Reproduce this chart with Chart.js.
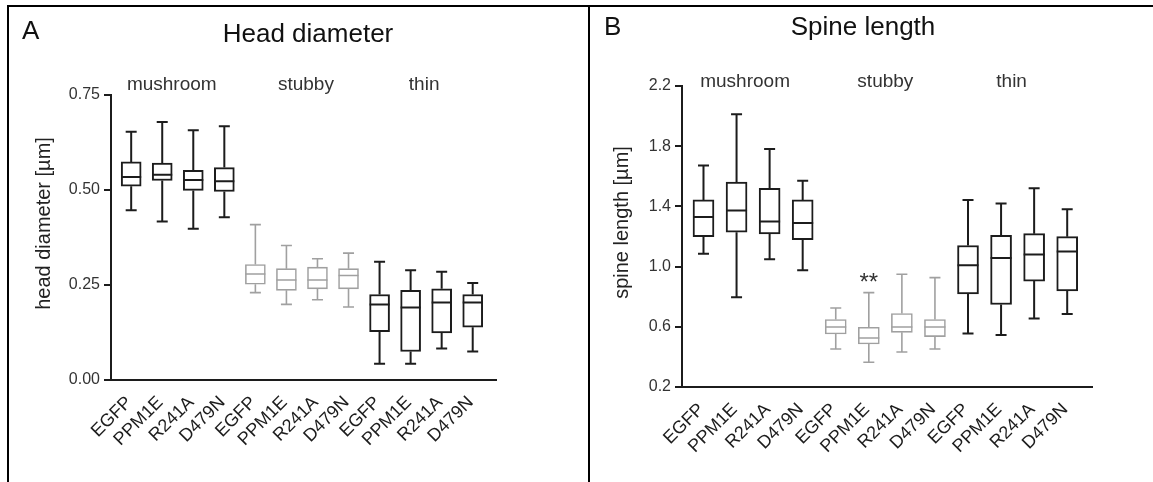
<!DOCTYPE html>
<html>
<head>
<meta charset="utf-8">
<script src="https://cdn.jsdelivr.net/npm/chart.js@4.4.1/dist/chart.umd.min.js"></script>
<style>
  html, body { margin: 0; padding: 0; background: #fff; }
  #wrap { position: relative; width: 1153px; height: 482px; overflow: hidden; }
  canvas { position: absolute; top: 0; }
  #cA { left: 0; }
  #cB { left: 589px; }
  .rule { position: absolute; background: #000; }
</style>
</head>
<body>
<div id="wrap">
  <canvas id="cA" width="589" height="482"></canvas>
  <canvas id="cB" width="564" height="482"></canvas>
  <div class="rule" style="left:7px;top:5px;width:1146px;height:2px"></div>
  <div class="rule" style="left:7px;top:5px;width:2px;height:477px"></div>
  <div class="rule" style="left:588px;top:5px;width:2px;height:477px"></div>
</div>
<script>
// Constructs on the x axis, grouped by spine type
const categories = ['EGFP', 'PPM1E', 'R241A', 'D479N', 'EGFP', 'PPM1E', 'R241A', 'D479N', 'EGFP', 'PPM1E', 'R241A', 'D479N'];
const groups = ['mushroom', 'stubby', 'thin'];

// Head diameter [µm]: whisker ends, quartiles and medians
const headMin    = [0.447, 0.417, 0.398, 0.428, 0.230, 0.199, 0.211, 0.192, 0.043, 0.043, 0.083, 0.075];
const headQ1     = [0.510, 0.525, 0.499, 0.496, 0.252, 0.236, 0.240, 0.240, 0.127, 0.075, 0.124, 0.139];
const headMedian = [0.534, 0.540, 0.526, 0.523, 0.279, 0.263, 0.263, 0.275, 0.199, 0.191, 0.204, 0.204];
const headQ3     = [0.574, 0.571, 0.552, 0.559, 0.304, 0.293, 0.297, 0.293, 0.225, 0.236, 0.240, 0.225];
const headMax    = [0.653, 0.679, 0.657, 0.668, 0.409, 0.354, 0.319, 0.334, 0.311, 0.289, 0.285, 0.255];
const headTicks  = [0, 0.25, 0.5, 0.75];

// Spine length [µm]
const spineMin    = [1.086, 0.796, 1.049, 0.975, 0.452, 0.364, 0.433, 0.452, 0.555, 0.546, 0.655, 0.685];
const spineQ1     = [1.199, 1.228, 1.217, 1.179, 0.552, 0.486, 0.563, 0.535, 0.818, 0.748, 0.904, 0.838];
const spineMedian = [1.330, 1.372, 1.299, 1.290, 0.599, 0.526, 0.599, 0.599, 1.009, 1.057, 1.080, 1.100];
const spineQ3     = [1.443, 1.562, 1.520, 1.443, 0.648, 0.597, 0.688, 0.648, 1.140, 1.208, 1.219, 1.199];
const spineMax    = [1.671, 2.012, 1.781, 1.571, 0.725, 0.827, 0.949, 0.927, 1.443, 1.419, 1.520, 1.381];
const spineTicks  = [0.2, 0.6, 1.0, 1.4, 1.8, 2.2];
const spineMarks  = ['', '', '', '', '', '**', '', '', '', '', '', ''];

const FONT = "'Liberation Sans', Arial, Helvetica, sans-serif";
const INK = '#1c1c1c';
const GREY = '#a0a0a0';

// stubby boxes are drawn in grey
const strokeFor = i => (Math.floor(i / 4) === 1 ? GREY : INK);
const lineFor = i => (Math.floor(i / 4) === 1 ? 1.6 : 2);

function makePanel(canvasId, p) {
  const n = categories.length;

  const boxParts = {
    id: 'boxParts',
    afterDatasetsDraw(chart) {
      const { ctx, scales: { x, y } } = chart;
      ctx.save();
      for (let i = 0; i < n; i++) {
        const cx = x.getPixelForValue(i);
        const half = p.boxWidth / 2;
        const cap = p.capWidth / 2;
        const yMin = y.getPixelForValue(p.min[i]);
        const yQ1 = y.getPixelForValue(p.q1[i]);
        const yMed = y.getPixelForValue(p.median[i]);
        const yQ3 = y.getPixelForValue(p.q3[i]);
        const yMax = y.getPixelForValue(p.max[i]);
        ctx.strokeStyle = strokeFor(i);
        ctx.lineWidth = lineFor(i);
        ctx.beginPath();
        ctx.moveTo(cx - half, yMed); ctx.lineTo(cx + half, yMed);
        ctx.moveTo(cx, yQ3); ctx.lineTo(cx, yMax);
        ctx.moveTo(cx - cap, yMax); ctx.lineTo(cx + cap, yMax);
        ctx.moveTo(cx, yQ1); ctx.lineTo(cx, yMin);
        ctx.moveTo(cx - cap, yMin); ctx.lineTo(cx + cap, yMin);
        ctx.stroke();
        if (p.marks && p.marks[i]) {
          ctx.fillStyle = '#333';
          ctx.font = '24px ' + FONT;
          ctx.textAlign = 'center';
          ctx.textBaseline = 'alphabetic';
          ctx.fillText(p.marks[i], cx, yMax - 3);
        }
      }
      ctx.restore();
    },
    afterDraw(chart) {
      const { ctx, chartArea, scales: { x } } = chart;
      ctx.save();
      ctx.textBaseline = 'alphabetic';
      // panel letter and title
      ctx.fillStyle = '#111';
      ctx.font = '26px ' + FONT;
      ctx.textAlign = 'left';
      ctx.fillText(p.letter, p.letterX, p.letterY);
      ctx.textAlign = 'center';
      ctx.fillText(p.title, p.titleX, p.titleY);
      // spine type over each group of four
      ctx.fillStyle = '#333';
      ctx.font = '19px ' + FONT;
      groups.forEach((g, k) => {
        ctx.fillText(g, x.getPixelForValue(k * 4 + 1.5) + p.groupNudge[k], p.groupY);
      });
      // rotated y-axis title
      ctx.save();
      ctx.translate(chartArea.left - p.yTitleGap, (chartArea.top + chartArea.bottom) / 2 - 14);
      ctx.rotate(-Math.PI / 2);
      ctx.textBaseline = 'middle';
      ctx.fillStyle = '#222';
      ctx.font = '20px ' + FONT;
      ctx.fillText(p.yTitle, 0, 0);
      ctx.restore();
      ctx.restore();
    }
  };

  const data = categories.map((c, i) => ({ x: i, y: [p.q1[i], p.q3[i]] }));

  return new Chart(document.getElementById(canvasId), {
    type: 'bar',
    data: {
      datasets: [{
        data,
        backgroundColor: '#ffffff',
        borderColor: categories.map((c, i) => strokeFor(i)),
        borderWidth: categories.map((c, i) => lineFor(i)),
        borderSkipped: false,
        barThickness: p.boxWidth
      }]
    },
    options: {
      responsive: false,
      animation: false,
      events: [],
      layout: { padding: p.padding },
      plugins: { legend: { display: false }, tooltip: { enabled: false } },
      scales: {
        x: {
          type: 'linear',
          offset: false,
          min: -0.65,
          max: 11.75,
          afterBuildTicks: s => { s.ticks = categories.map((c, i) => ({ value: i })); },
          afterFit: s => { s.height = p.xHeight; },
          grid: { display: false },
          border: { display: true, color: INK, width: 2 },
          ticks: {
            autoSkip: false,
            minRotation: 45,
            maxRotation: 45,
            padding: 4,
            labelOffset: -2,
            color: INK,
            font: { family: FONT, size: 18 },
            callback: v => categories[v]
          }
        },
        y: {
          min: p.yMin,
          max: p.yMax,
          afterBuildTicks: s => { s.ticks = p.ticks.map(v => ({ value: v })); },
          afterFit: s => { s.width = p.yWidth; },
          grid: { drawOnChartArea: false, drawTicks: true, tickLength: 7, color: INK, lineWidth: 2 },
          border: { display: true, color: INK, width: 2 },
          ticks: {
            padding: 4,
            color: '#333',
            font: { family: FONT, size: 16 },
            callback: v => v.toFixed(p.decimals)
          }
        }
      }
    },
    plugins: [boxParts]
  });
}

makePanel('cA', {
  min: headMin, q1: headQ1, median: headMedian, q3: headQ3, max: headMax,
  ticks: headTicks, yMin: 0, yMax: 0.75, decimals: 2,
  letter: 'A', letterX: 22, letterY: 39,
  title: 'Head diameter', titleX: 308, titleY: 42,
  groupY: 90, groupNudge: [-6, 4, -2],
  yTitle: 'head diameter [µm]', yTitleGap: 67,
  boxWidth: 20, capWidth: 11,
  yWidth: 95, xHeight: 90,
  padding: { left: 16, right: 93, top: 95, bottom: 12 }
});

makePanel('cB', {
  min: spineMin, q1: spineQ1, median: spineMedian, q3: spineQ3, max: spineMax,
  ticks: spineTicks, yMin: 0.2, yMax: 2.2, decimals: 1, marks: spineMarks,
  letter: 'B', letterX: 15, letterY: 35,
  title: 'Spine length', titleX: 274, titleY: 35,
  groupY: 87, groupNudge: [-8, 0, -6],
  yTitle: 'spine length [µm]', yTitleGap: 60,
  boxWidth: 21, capWidth: 11,
  yWidth: 80, xHeight: 85,
  padding: { left: 13, right: 61, top: 86, bottom: 10 }
});
</script>
</body>
</html>
